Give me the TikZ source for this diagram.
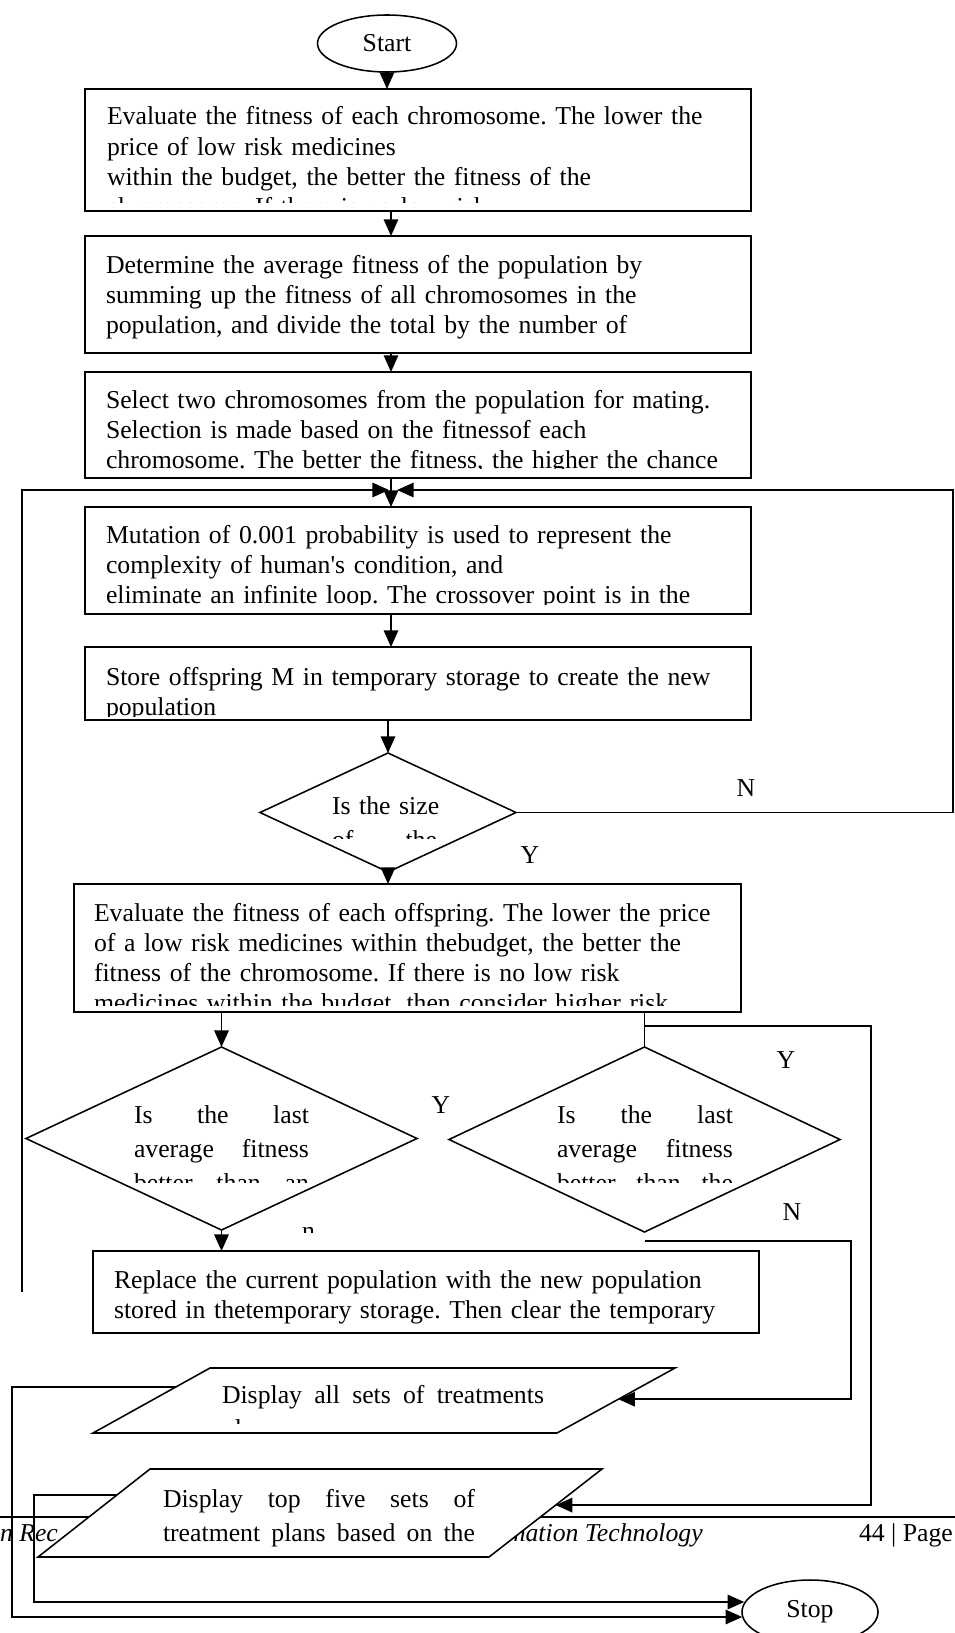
\documentclass[tikz,border=0pt]{standalone}
\usepackage{fontspec}
\setmainfont{Liberation Serif}[Ligatures=TeXOff]
\usetikzlibrary{positioning,shapes.geometric,arrows.meta,calc}
\newlength{\pxu}
\setlength{\pxu}{0.4525pt}
\frenchspacing
\tikzset{
  stepbox/.style={rectangle, draw, line width=0.8pt, minimum width=666\pxu, inner sep=0pt, outer sep=0pt},
  ask/.style={diamond, draw, line width=0.7pt, inner sep=0pt, outer sep=0pt},
  io/.style={draw, fill=white, line width=0.7pt},
  terminal/.style={ellipse, draw, line width=0.7pt, font=\fontsize{11.65}{13.6}\selectfont},
  txt/.style={inner sep=0pt, outer sep=0pt, anchor=base west, align=left, font=\fontsize{11.65}{13.6}\selectfont},
  roomy/.style={font=\fontsize{11.65}{15.4}\selectfont},
  lbl/.style={inner sep=0pt, font=\fontsize{11.65}{13.6}\selectfont},
  arrow/.style={-{Triangle[length=7.5pt,width=6.5pt]}, line width=0.8pt},
  wire/.style={line width=0.8pt}
}

\begin{document}
\begin{tikzpicture}[x=\pxu, y=-\pxu]
  \useasboundingbox (0,0) rectangle (955,1633);

  % page footer behind the chart
  \draw[wire] (0,1517) -- (955,1517);
  \node[txt, font=\fontsize{11.65}{13.6}\selectfont\itshape] (footl) at (0,1541) {n Rec};
  \node[txt, font=\fontsize{11.65}{13.6}\selectfont\itshape] (footm) at (507,1541) {mation Technology};
  \node[txt] (footr) at (859,1541) {44 | Page};

  \node[terminal, minimum width=139\pxu, minimum height=57\pxu] (start) at (387,43.5) {Start};
  \node[stepbox, minimum height=122\pxu] (eval) at (418,150) {};
  \node[stepbox, minimum height=117\pxu] (avg) at (418,294.5) {};
  \node[stepbox, minimum height=106\pxu] (select) at (418,425) {};
  \node[stepbox, minimum height=107\pxu] (mutate) at (418,560.5) {};
  \node[stepbox, minimum height=73\pxu] (store) at (418,683.5) {};
  \node[ask, minimum width=256\pxu, minimum height=119\pxu] (size) at (388,812.5) {};
  \node[stepbox, minimum width=667\pxu, minimum height=128\pxu] (evalkid) at (407.5,948) {};
  \node[ask, minimum width=391\pxu, minimum height=183\pxu] (lastl) at (221.5,1138.5) {};
  \node[ask, minimum width=391\pxu, minimum height=185\pxu] (lastr) at (644.5,1139.5) {};
  \node[stepbox, minimum height=82\pxu] (replace) at (426,1292) {};
  \node[terminal, minimum width=136\pxu, minimum height=64\pxu] (stop) at (810,1612) {Stop};

  % the two output parallelograms
  \coordinate (allbl) at (93,1433);
  \coordinate (alltl) at (210,1368);
  \coordinate (alltr) at (675,1368);
  \coordinate (allbr) at (557,1433);
  \draw[io] (allbl) -- (alltl) -- (alltr) -- (allbr) -- cycle;
  \coordinate (topbl) at (38,1557);
  \coordinate (toptl) at (150,1469);
  \coordinate (toptr) at (602,1469);
  \coordinate (topbr) at (489,1557);
  \draw[io] (topbl) -- (toptl) -- (toptr) -- (topbr) -- cycle;

  % texts, cut off by their boxes
  \begin{scope}
    \clip (85,89) rectangle (751,202);
    \node[txt, text width=640\pxu] (evaltxt) at (107,125) {Evaluate the fitness of each chromosome. The lower the\\price of low risk medicines\\within the budget, the better the fitness of the\\chromosome. If there is no low risk};
  \end{scope}
  \node[txt, text width=640\pxu] (avgtxt) at (106,273.5) {Determine the average fitness of the population by\\summing up the fitness of all chromosomes in the\\population, and divide the total by the number of};
  \begin{scope}
    \clip (85,372) rectangle (751,468);
    \node[txt, text width=640\pxu] (selecttxt) at (106,408.5) {Select two chromosomes from the population for mating.\\Selection is made based on the fitnessof each\\chromosome. The better the fitness, the higher the chance};
  \end{scope}
  \begin{scope}
    \clip (85,507) rectangle (751,604);
    \node[txt, text width=640\pxu] (mutatetxt) at (106,543.5) {Mutation of 0.001 probability is used to represent the\\complexity of human's condition, and\\eliminate an infinite loop. The crossover point is in the};
  \end{scope}
  \begin{scope}
    \clip (85,647) rectangle (751,716);
    \node[txt, text width=640\pxu] (storetxt) at (106,685.5) {Store offspring M in temporary storage to create the new\\population};
  \end{scope}
  \begin{scope}
    \clip (300,760) rectangle (470,838);
    \node[txt, roomy, text width=160\pxu] (sizetxt) at (332,814) {Is the size\\\makebox[105\pxu][s]{of\hfill the}};
  \end{scope}
  \begin{scope}
    \clip (74,884) rectangle (741,1005);
    \node[txt, text width=640\pxu] (evalkidtxt) at (94,921.5) {Evaluate the fitness of each offspring. The lower the price\\of a low risk medicines within thebudget, the better the\\fitness of the chromosome. If there is no low risk\\medicines within the budget, then consider higher risk};
  \end{scope}
  \begin{scope}
    \clip (120,1090) rectangle (330,1182);
    \node[txt, roomy, text width=200\pxu] (lastltxt) at (134,1123) {\makebox[175\pxu][s]{Is\hfill the\hfill last}\\\makebox[175\pxu][s]{average\hfill fitness}\\\makebox[175\pxu][s]{better\hfill than\hfill an}};
  \end{scope}
  \begin{scope}
    \clip (540,1090) rectangle (750,1182);
    \node[txt, roomy, text width=200\pxu] (lastrtxt) at (557,1123) {\makebox[176\pxu][s]{Is\hfill the\hfill last}\\\makebox[176\pxu][s]{average\hfill fitness}\\\makebox[176\pxu][s]{better\hfill than\hfill the}};
  \end{scope}
  \begin{scope}
    \clip (290,1215) rectangle (330,1232);
    \node[txt] (frag) at (302,1239) {n};
  \end{scope}
  \node[txt, text width=660\pxu] (replacetxt) at (114,1288.5) {Replace the current population with the new population\\stored in thetemporary storage. Then clear the temporary};
  \begin{scope}
    \clip (200,1370) rectangle (560,1423);
    \node[txt, roomy, text width=340\pxu] (showalltxt) at (222,1403.5) {\makebox[322\pxu][s]{Display \hfill all \hfill sets \hfill of \hfill treatments}\\plans};
  \end{scope}
  \node[txt, roomy, text width=340\pxu] (showtoptxt) at (163,1507) {\makebox[312\pxu][s]{Display\hfill top\hfill five\hfill sets\hfill of}\\\makebox[312\pxu][s]{treatment \hfill plans \hfill based \hfill on \hfill the}};

  % main column
  \coordinate (spine) at (391,0);
  \draw[arrow] (start.south) -- (start.south |- eval.north);
  \draw[arrow] (eval.south -| spine) -- (avg.north -| spine);
  \draw[arrow] (avg.south -| spine) -- (select.north -| spine);
  \draw[arrow] (select.south -| spine) -- (mutate.north -| spine);
  \draw[arrow] (mutate.south -| spine) -- (store.north -| spine);
  \draw[arrow] (store.south -| size.north) -- (size.north);
  \draw[arrow] (size.south) -- (size.south |- evalkid.north);

  % loops back above the mutation step
  \coordinate (joinl) at (389,490);
  \coordinate (joinr) at (397,490);
  \coordinate (loopr) at (953,490);
  \coordinate (loopl) at (22,1292);
  \draw[arrow] (size.east) -| (loopr) -- (joinr);
  \draw[arrow] (loopl) |- (joinl);

  % the two checks
  \draw[arrow] (evalkid.south -| lastl.north) -- (lastl.north);
  \draw[wire] (evalkid.south -| lastr.north) -- (lastr.north);
  \draw[arrow] (lastl.south) -- (lastl.south |- replace.north);
  \coordinate (rb) at (871,1026);
  \coordinate (topin) at ($(topbr)!0.59!(toptr)$);
  \draw[arrow] (lastr.north |- rb) -- (rb) |- (topin);
  \coordinate (ra) at (851,1241);
  \coordinate (allin) at ($(allbr)!0.52!(alltr)$);
  \draw[arrow] (lastr.south |- ra) -- (ra) |- (allin);

  % outputs to stop
  \coordinate (allout) at ($(allbl)!0.71!(alltl)$);
  \coordinate (topout) at ($(topbl)!0.705!(toptl)$);
  \coordinate (outer) at (12,1617);
  \coordinate (inner) at (34,1602);
  \draw[arrow] (allout) -| (outer) -- ($(stop.west)+(1,5)$);
  \draw[arrow] (topout) -| (inner) -- ($(stop.west)+(3,-10)$);

  \node[lbl] (nsize) at (746,788) {N};
  \node[lbl] (ysize) at (530,855) {Y};
  \node[lbl] (ylastl) at (441,1105) {Y};
  \node[lbl] (ylastr) at (786,1060) {Y};
  \node[lbl] (nlastr) at (792,1212) {N};
\end{tikzpicture}
\end{document}
